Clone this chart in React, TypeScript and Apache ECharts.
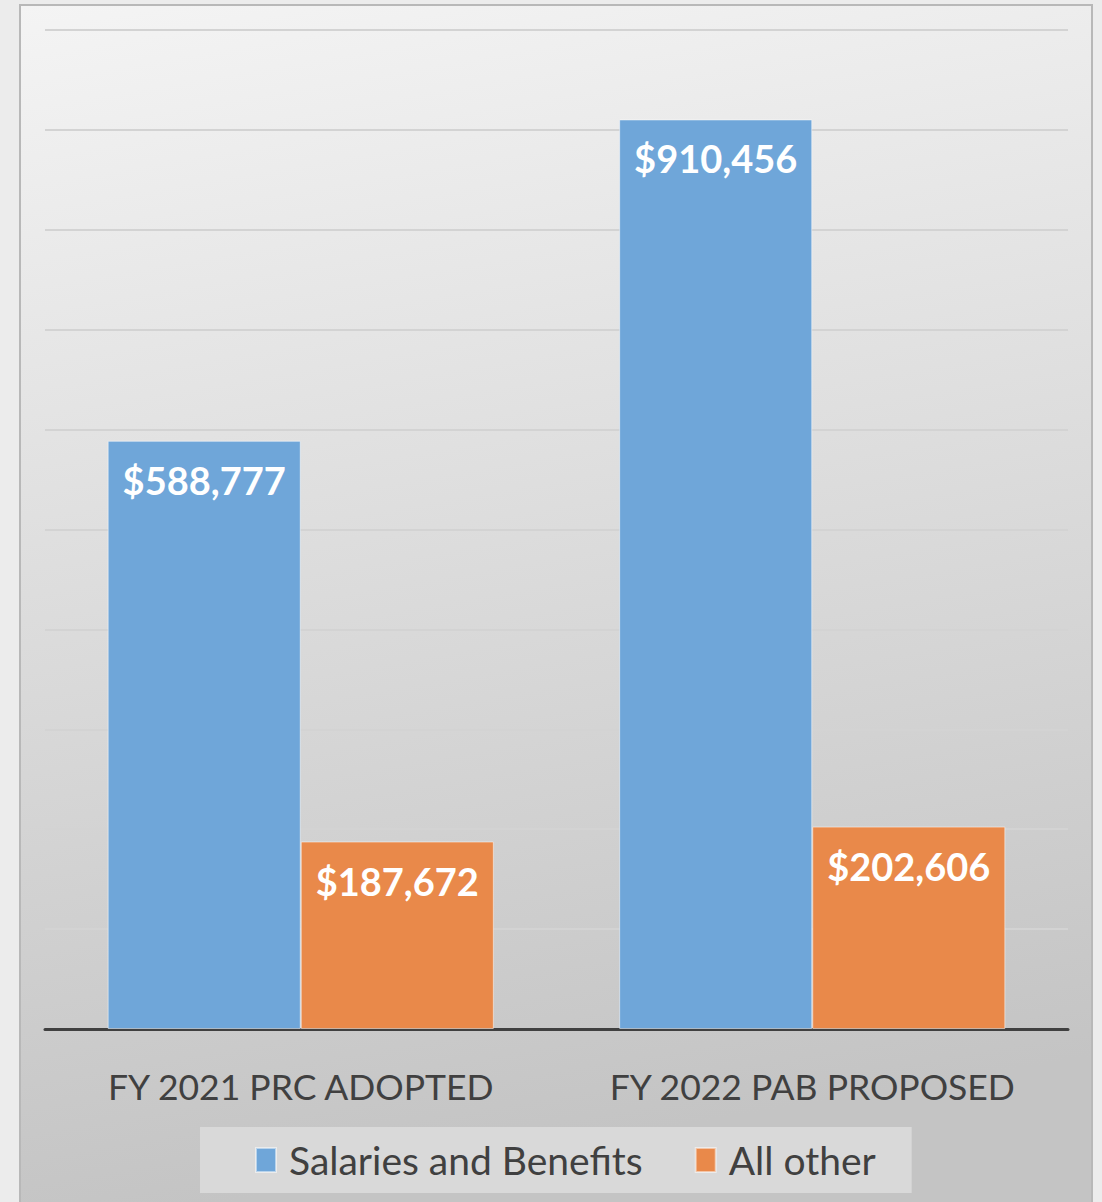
import React, { useEffect, useRef } from "react";
import * as echarts from "echarts";

const categories = ["FY 2021 PRC ADOPTED", "FY 2022 PAB PROPOSED"];
const seriesNames = ["Salaries and Benefits", "All other"];
const salaries = [588777, 910456];
const allOther = [187672, 202606];

const FONT = "Lato, 'Noto Sans', sans-serif";

export default function App() {
  const ref = useRef<HTMLDivElement>(null);
  useEffect(() => {
    if (!ref.current) return;
    const chart = echarts.init(ref.current, undefined, { renderer: "svg" });
    const fmt = (p: any) => "$" + Number(p.value).toLocaleString("en-US");
    chart.setOption({
      animation: false,
      backgroundColor: "#ececec",
      graphic: [
        {
          type: "rect",
          z: -10,
          shape: { x: 20, y: 5, width: 1072, height: 1205 },
          style: {
            fill: new echarts.graphic.LinearGradient(0, 0, 0.15, 1, [
              { offset: 0, color: "#f4f4f4" },
              { offset: 1, color: "#c4c4c4" },
            ]),
            stroke: "#b8b8b8",
            lineWidth: 2,
          },
        },
      ],
      grid: { left: 45, right: 34, top: 30, bottom: 173, containLabel: false },
      xAxis: {
        type: "category",
        data: categories,
        axisLine: { lineStyle: { color: "#404040", width: 3 } },
        axisTick: { show: false },
        axisLabel: {
          interval: 0,
          color: "#404040",
          fontSize: 35.5,
          fontFamily: FONT,
          margin: 39,
        },
      },
      yAxis: {
        type: "value",
        min: 0,
        max: 1000000,
        interval: 100000,
        axisLabel: { show: false },
        axisLine: { show: false },
        axisTick: { show: false },
        splitLine: { lineStyle: { color: "#d3d3d3", width: 2 } },
      },
      legend: {
        data: seriesNames,
        left: 200,
        top: 1127,
        backgroundColor: "#d9d9d9",
        padding: [11, 36, 11, 55],
        itemWidth: 20,
        itemHeight: 24,
        itemGap: 52,
        icon: "rect",
        textStyle: {
          color: "#404040",
          fontSize: 39,
          lineHeight: 44,
          fontFamily: FONT,
          padding: [0, 0, 0, 8],
        },
      },
      series: [
        {
          name: seriesNames[0],
          type: "bar",
          data: salaries,
          barGap: "0%",
          barCategoryGap: "24.5%",
          itemStyle: { color: "#6fa6d9", borderColor: "rgba(255,255,255,0.5)", borderWidth: 1 },
          label: {
            show: true,
            position: "insideTop",
            distance: 20,
            color: "#ffffff",
            fontWeight: "bold",
            fontSize: 38,
            fontFamily: FONT,
            formatter: fmt,
          },
        },
        {
          name: seriesNames[1],
          type: "bar",
          data: allOther,
          itemStyle: { color: "#e9894a", borderColor: "rgba(255,255,255,0.5)", borderWidth: 1 },
          label: {
            show: true,
            position: "insideTop",
            distance: 20,
            color: "#ffffff",
            fontWeight: "bold",
            fontSize: 38,
            fontFamily: FONT,
            formatter: fmt,
          },
        },
      ],
    });
    return () => chart.dispose();
  }, []);
  return (
    <div
      ref={ref}
      style={{ position: "fixed", left: 0, top: 0, width: 1102, height: 1202 }}
    />
  );
}
